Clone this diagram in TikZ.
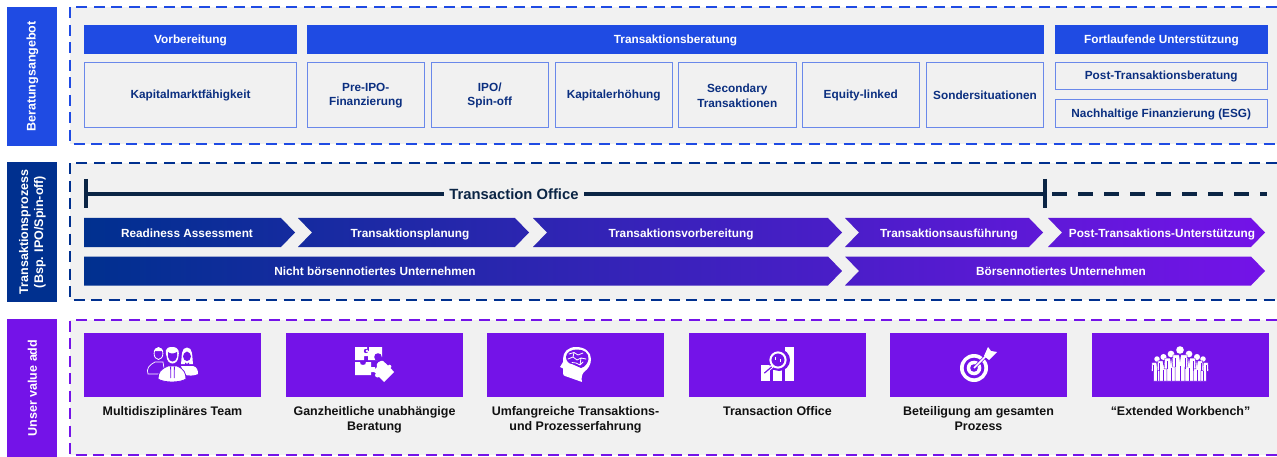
\documentclass[tikz,border=0pt]{standalone}
\usepackage{fontspec}
\setmainfont{Liberation Sans}
\definecolor{cblue}{HTML}{1F4BE3}
\definecolor{cnavy}{HTML}{00308F}
\definecolor{cpurple}{HTML}{7413E8}
\definecolor{cline}{HTML}{0B2545}
\definecolor{cpanel}{HTML}{F1F1F1}
\definecolor{cedge}{HTML}{6A88EA}
\definecolor{ctext}{HTML}{0B2F80}
\definecolor{cblack}{HTML}{111111}
\tikzset{
  sidebox/.style={anchor=center,text=white,font=\bfseries\fontsize{12.5}{15}\selectfont,align=center,rotate=90},
  paneldash/.style={line width=2.4pt,dash pattern=on 11pt off 6.5pt},
  headtext/.style={text=white,font=\bfseries\fontsize{11.8}{14.7}\selectfont,align=center,inner sep=0pt},
  boxtext/.style={text=ctext,font=\bfseries\fontsize{11.8}{14.7}\selectfont,align=center},
  boxedge/.style={draw=cedge,line width=.95pt,fill=cpanel},
  valtext/.style={text=cblack,font=\bfseries\fontsize{12.45}{15}\selectfont,align=center},
}
\newcommand{\sectionframe}[7]{%
  \fill[#6] (7,#4) rectangle (57,#5);
  \node[sidebox] (#1side) at (32.5,{(#4+#5)/2}) {#7};
  \fill[cpanel] (70,#2) rectangle (1277,#3);
  \draw[#6,paneldash] (1277,#2) -- (70,#2) -- (70,#3) -- (1277,#3);
}
\newcommand{\headbar}[4]{%
  \fill[cblue] (#2,25) rectangle (#3,54);
  \node[headtext,text height=8pt,text depth=0pt] (#1) at ({(#2+#3)/2},39.5) {#4};
}
\newcommand{\tbox}[6]{%
  \filldraw[boxedge] (#2,#3) rectangle (#4,#5);
  \node[boxtext] (#1) at ({(#2+#4)/2},{(#3+#5)/2+1}) {#6};
}
\newcommand{\chev}[8]{%
  \pgfmathsetmacro\pa{100*(1-(#4-84)/1181)}
  \pgfmathsetmacro\pb{100*(1-(#6-84)/1181)}
  \shade[left color=cnavy!\pa!cpurple,right color=cnavy!\pb!cpurple]
    (#4,#2) -- ({#6-14},#2) -- (#6,{(#2+#3)/2}) -- ({#6-14},#3) -- (#4,#3)
    -- ({#4+#5},{(#2+#3)/2}) -- cycle;
  \node[headtext,text height=9.8pt,text depth=0pt] (#1) at (#7,{(#2+#3)/2}) {#8};
}
\newcommand{\tile}[3]{%
  \fill[cpurple] (#2,333) rectangle ({#2+177},397);
  \node[valtext,anchor=north] (#1) at ({#2+88.5},403.2) {#3};
}
\newcommand{\crowdman}[3]{%
  \begin{scope}[shift={(#1,#2)}]
    \fill[white] (0,0) circle ({#3*3.8});
    \fill[white,draw=cpurple,line width=.45pt] ({-#3*7},{#3*4.8}) -- ({#3*7},{#3*4.8}) -- ({#3*7.8},{#3*17}) -- ({#3*4.8},{#3*17})
      -- ({#3*4.8},{381-#2}) -- ({-#3*4.8},{381-#2}) -- ({-#3*4.8},{#3*17}) -- ({-#3*7.8},{#3*17}) -- cycle;
    \draw[cpurple,line width=.6pt] (0,{#3*16}) -- (0,{381-#2});
    \draw[cpurple,line width=.5pt] ({-#3*4.8},{#3*8}) -- ({-#3*4.8},{#3*17}) ({#3*4.8},{#3*8}) -- ({#3*4.8},{#3*17});
    \fill[cpurple] ({-#3*1},{#3*4.8}) -- ({#3*1},{#3*4.8}) -- (0,{#3*12}) -- cycle;
  \end{scope}
}
\begin{document}
\begin{tikzpicture}[x=1pt,y=-1pt]
\useasboundingbox (0,0) rectangle (1277,457);
\fill[white] (0,0) rectangle (1277,457);

% ===== Section 1
\sectionframe{a}{7}{144}{7}{146}{cblue}{Beratungsangebot}
\headbar{h1}{84}{297}{Vorbereitung}
\headbar{h2}{307}{1044}{Transaktionsberatung}
\headbar{h3}{1055}{1268}{Fortlaufende Unterstützung}
\tbox{b1}{84.5}{62}{296.5}{127}{Kapitalmarktfähigkeit}
\tbox{b2}{307.5}{62}{424}{127}{Pre-IPO-\\Finanzierung}
\tbox{b3}{431.5}{62}{548}{127}{IPO/\\Spin-off}
\tbox{b4}{555.5}{62}{672}{127}{Kapitalerhöhung}
\tbox{b5}{678.5}{62}{796}{127}{Secondary\\Transaktionen}
\tbox{b6}{802.5}{62}{919}{127}{Equity-linked}
\tbox{b7}{926.5}{62}{1043.5}{127}{Sondersituationen}
\tbox{b8}{1055.5}{62}{1267}{89}{Post-Transaktionsberatung}
\tbox{b9}{1055.5}{99}{1267}{127}{Nachhaltige Finanzierung (ESG)}

% ===== Section 2
\sectionframe{c}{163}{300}{162}{302}{cnavy}{Transaktionsprozess\\(Bsp. IPO/Spin-off)}
\coordinate (tl) at (86,194);
\coordinate (tm) at (1045,194);
\coordinate (tx) at (1052,194);
\coordinate (tr) at (1267,194);
\draw[cline,line width=3.8pt] (86,179) -- (86,208);
\draw[cline,line width=3.8pt] (1045,179) -- (1045,208);
\draw[cline,line width=3.6pt] (tl) -- (tm);
\draw[cline,line width=3.6pt,dash pattern=on 15pt off 11pt] (tx) -- (tr);
\node[fill=cpanel,text=cline,font=\bfseries\fontsize{14.8}{16}\selectfont,inner xsep=5pt,inner ysep=2pt] (to) at (514,194) {Transaction Office};

\chev{p1}{218}{247}{84}{0}{295}{187}{Readiness Assessment}
\chev{p2}{218}{247}{298}{14}{529}{410}{Transaktionsplanung}
\chev{p3}{218}{247}{533}{14}{842}{681}{Transaktionsvorbereitung}
\chev{p4}{218}{247}{845}{14}{1043}{949}{Transaktionsausführung}
\chev{p5}{218}{247}{1048}{14}{1265}{1162}{Post-Transaktions-Unterstützung}
\chev{q1}{256.5}{285.5}{84}{0}{842}{375}{Nicht börsennotiertes Unternehmen}
\chev{q2}{256.5}{285.5}{845}{14}{1265}{1061}{Börsennotiertes Unternehmen}

% ===== Section 3
\sectionframe{v}{320}{455}{319}{457}{cpurple}{Unser value add}
\tile{t1}{84}{Multidisziplinäres Team}
\tile{t2}{286}{Ganzheitliche unabhängige\\Beratung}
\tile{t3}{487}{Umfangreiche Transaktions-\\und Prozesserfahrung}
\tile{t4}{689}{Transaction Office}
\tile{t5}{890}{Beteiligung am gesamten\\Prozess}
\tile{t6}{1092}{“Extended Workbench”}

% --- icon: team
\draw[white,line width=.7pt,fill=cpurple] (153,374) -- (148,374) .. controls (146,369) and (149,365) .. (155,362) -- (163,362) -- (165,374) -- cycle;
\draw[white,line width=.8pt,fill=cpurple] (158.5,353.5) ellipse (4.4 and 6);
\fill[white] (154,351) .. controls (155,346.5) and (162,346.5) .. (163,351) -- cycle;
\fill[white] (187,347.5) .. controls (181,347.5) and (182,356) .. (181,364) -- (193,364) .. controls (192,356) and (193,347.5) .. (187,347.5) -- cycle;
\fill[cpurple] (187,351.5) .. controls (184.5,352.5) and (183,354) .. (183,356.5) .. controls (183.5,362.5) and (190.5,362.5) .. (191,356.5) .. controls (191,354) and (189.5,352.5) .. (187,351.5) -- cycle;
\fill[white] (181,366) -- (193,366) .. controls (197,367) and (198,370) .. (198,374) .. controls (194,376) and (188,376) .. (184,374.5) -- cycle;
\fill[cpurple] (185,362.5) -- (187,364) -- (189,362.5) -- (189,366) -- (187,364.7) -- (185,366) -- cycle;
\fill[white] (172,347) .. controls (164,347) and (165.5,353) .. (166.5,356) .. controls (167,366) and (178,366) .. (178.5,356) .. controls (179,353) and (180,347) .. (172,347) -- cycle;
\fill[cpurple] (168,352) .. controls (170,354) and (174,354) .. (177,352) -- (177,357) .. controls (176,363) and (169,363) .. (168,357) -- cycle;
\fill[white,draw=cpurple,line width=.8pt] (158,379) .. controls (158,372) and (161,369) .. (168,366) -- (177,366) .. controls (184,369) and (186,373) .. (186,379) .. controls (180,383) and (164,383) .. (158,379) -- cycle;
\draw[cpurple,line width=.8pt] (170.6,366.5) -- (170.8,378) (174.4,366.5) -- (174.2,378);

% --- icon: puzzle
\fill[white] (355,347) -- (367,347) -- (367,351) -- (369,351) -- (369,347) -- (382,347) -- (382,357) -- (378,357) -- (378,360) -- (368,360) -- (368,356) -- (364,356) -- (364,360) -- (355,360) -- cycle;
\fill[cpurple] (366,351) circle (2.2);
\fill[white] (367,351) circle (1.4);
\fill[white] (355,362) -- (360,362) .. controls (359,366) and (367,366) .. (366,362) -- (371,362) -- (371,367) -- (375,367) -- (375,372) -- (371,372) -- (371,375) -- (355,375) -- cycle;
\fill[cpurple] (378,357) circle (3.8);
\fill[white] (383,361) -- (388,365.5) .. controls (390,363) and (393,367) .. (390.5,368) -- (394,372) -- (384,382) -- (379,377) .. controls (377,379) and (373,375) .. (376,373.5) -- (373,371) -- (377,367) .. controls (375,363) and (381,360) .. (383,361) -- cycle;

% --- icon: head with brain
\fill[white] (565,376) -- (582,382) .. controls (581,378) and (582,374) .. (584,372) .. controls (588,369) and (591,365) .. (591,359) .. controls (591,352) and (585,347) .. (576,347) .. controls (568,347) and (563,352) .. (563,359) -- (563,362) -- (560,367) -- (563,368.5) -- (563,373) .. controls (563,375) and (564,376) .. (565,376) -- cycle;
\fill[cpurple] (566,357) .. controls (566,352) and (572,349.5) .. (577,349.5) .. controls (584,349.5) and (589,353) .. (588.5,359) .. controls (588,363) and (585,367) .. (581,368) .. controls (578,366) and (575,366) .. (572,364) .. controls (569,364) and (566,361) .. (566,357) -- cycle;
\draw[white,line width=.8pt,line cap=round] (569,354) -- (574,352.5) -- (578,355) -- (583,353) (568,359) -- (573,357) -- (577,360) -- (581,358) -- (586,359) (572,362.5) -- (576,363) -- (580,365) -- (583,362) (574,352.5) -- (573,357) (581,358) -- (580,365);

% --- icon: chart with lens
\fill[white] (761,365) rectangle (770,381);
\fill[white] (773,370) rectangle (782,381);
\fill[white] (785,347) rectangle (794,381);
\fill[cpurple] (779,360) circle (11);
\draw[white,line width=2pt,fill=cpurple] (778,360) circle (7.6);
\draw[white,line width=3.2pt,line cap=round] (772.5,366) -- (764.5,373);
\draw[cpurple,line width=1.2pt,line cap=round] (771.5,367) -- (764.5,373);
\draw[white,line width=.9pt] (775.5,357) -- (775.5,360) (780.5,359) -- (780.5,362);

% --- icon: target with dart
\fill[white] (974,368) circle (14);
\fill[cpurple] (974,368) circle (10.3);
\fill[white] (974,368) circle (7.3);
\fill[cpurple] (974,368) circle (3.8);
\draw[cpurple,line width=3pt] (974,368) -- (988,354);
\draw[white,line width=1.6pt] (974,368) -- (988,354);
\fill[white] (984,356) -- (988,347) -- (991,351) -- (997,352) -- (989,360) -- cycle;

% --- icon: crowd
\crowdman{1157}{359}{.72}
\crowdman{1203}{359}{.72}
\crowdman{1163.5}{357}{.8}
\crowdman{1197}{357}{.8}
\crowdman{1171}{354}{.88}
\crowdman{1189}{354}{.88}
\crowdman{1180}{350}{1}
\end{tikzpicture}
\end{document}
